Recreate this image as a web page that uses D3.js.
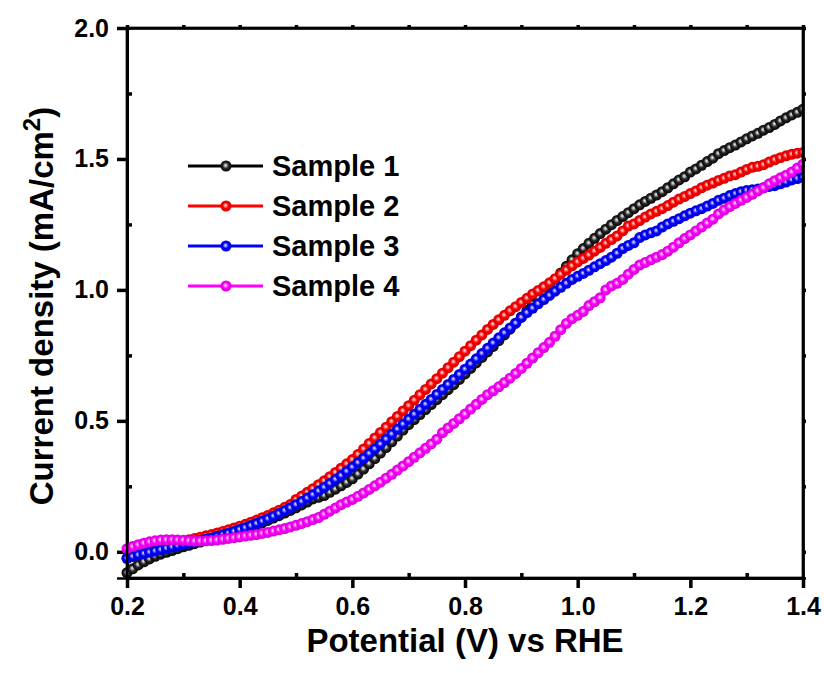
<!DOCTYPE html>
<html>
<head>
<meta charset="utf-8">
<script src="https://cdn.jsdelivr.net/npm/d3@7"></script>
<style>
  body { margin: 0; background: #fff; }
  svg { font-family: "Liberation Sans", Arial, sans-serif; font-weight: bold; }
</style>
</head>
<body>
<svg width="824" height="673"></svg>
<script>
var potential = [0.20,0.21,0.22,0.23,0.24,0.25,0.26,0.27,0.28,0.29,
  0.30,0.31,0.32,0.33,0.34,0.35,0.36,0.37,0.38,0.39,
  0.40,0.41,0.42,0.43,0.44,0.45,0.46,0.47,0.48,0.49,
  0.50,0.51,0.52,0.53,0.54,0.55,0.56,0.57,0.58,0.59,
  0.60,0.61,0.62,0.63,0.64,0.65,0.66,0.67,0.68,0.69,
  0.70,0.71,0.72,0.73,0.74,0.75,0.76,0.77,0.78,0.79,
  0.80,0.81,0.82,0.83,0.84,0.85,0.86,0.87,0.88,0.89,
  0.90,0.91,0.92,0.93,0.94,0.95,0.96,0.97,0.98,0.99,
  1.00,1.01,1.02,1.03,1.04,1.05,1.06,1.07,1.08,1.09,
  1.10,1.11,1.12,1.13,1.14,1.15,1.16,1.17,1.18,1.19,
  1.20,1.21,1.22,1.23,1.24,1.25,1.26,1.27,1.28,1.29,
  1.30,1.31,1.32,1.33,1.34,1.35,1.36,1.37,1.38,1.39,1.40];

var sample1 = [-0.080,-0.065,-0.050,-0.038,-0.027,-0.017,-0.009,-0.002,0.005,0.012,
  0.019,0.025,0.031,0.037,0.043,0.049,0.055,0.061,0.067,0.074,
  0.081,0.088,0.095,0.103,0.111,0.120,0.129,0.138,0.148,0.158,
  0.168,0.179,0.190,0.202,0.208,0.215,0.227,0.239,0.252,0.265,
  0.279,0.297,0.316,0.336,0.356,0.377,0.398,0.420,0.442,0.465,
  0.486,0.505,0.524,0.543,0.562,0.581,0.600,0.619,0.638,0.658,
  0.679,0.700,0.721,0.742,0.763,0.784,0.806,0.828,0.850,0.873,
  0.897,0.921,0.945,0.969,0.993,1.017,1.041,1.065,1.090,1.115,
  1.138,1.158,1.178,1.197,1.215,1.232,1.249,1.265,1.280,1.295,
  1.310,1.325,1.338,1.350,1.362,1.375,1.390,1.405,1.420,1.432,
  1.450,1.462,1.476,1.490,1.503,1.520,1.532,1.543,1.553,1.565,
  1.577,1.588,1.598,1.610,1.620,1.632,1.645,1.657,1.668,1.678,1.690];

var sample2 = [-0.025,-0.015,-0.006,0.002,0.009,0.015,0.021,0.026,0.031,0.036,
  0.041,0.046,0.051,0.056,0.061,0.066,0.072,0.078,0.084,0.091,
  0.098,0.105,0.113,0.121,0.130,0.139,0.149,0.159,0.170,0.181,
  0.200,0.213,0.227,0.241,0.256,0.271,0.287,0.303,0.319,0.336,
  0.352,0.372,0.393,0.414,0.435,0.456,0.476,0.497,0.517,0.538,
  0.558,0.579,0.600,0.620,0.641,0.661,0.682,0.703,0.724,0.745,
  0.766,0.787,0.808,0.828,0.849,0.868,0.886,0.903,0.920,0.936,
  0.952,0.968,0.984,0.998,1.012,1.027,1.043,1.060,1.076,1.092,
  1.107,1.120,1.133,1.148,1.162,1.178,1.192,1.206,1.225,1.244,
  1.252,1.265,1.278,1.290,1.300,1.310,1.322,1.335,1.347,1.357,
  1.368,1.378,1.390,1.400,1.408,1.418,1.426,1.435,1.440,1.450,
  1.460,1.468,1.472,1.478,1.488,1.497,1.505,1.512,1.518,1.522,1.525];

var sample3 = [-0.025,-0.018,-0.012,-0.007,-0.002,0.003,0.008,0.013,0.018,0.023,
  0.028,0.033,0.038,0.043,0.048,0.053,0.059,0.065,0.071,0.078,
  0.085,0.092,0.100,0.108,0.117,0.126,0.136,0.146,0.157,0.168,
  0.180,0.192,0.205,0.218,0.232,0.246,0.261,0.276,0.291,0.307,
  0.323,0.340,0.357,0.375,0.393,0.411,0.430,0.449,0.468,0.487,
  0.506,0.525,0.544,0.563,0.582,0.601,0.620,0.639,0.658,0.677,
  0.697,0.717,0.737,0.757,0.777,0.797,0.817,0.836,0.855,0.873,
  0.895,0.913,0.930,0.947,0.963,0.979,0.995,1.010,1.025,1.040,
  1.052,1.063,1.075,1.088,1.100,1.112,1.125,1.140,1.158,1.170,
  1.180,1.200,1.210,1.218,1.225,1.240,1.252,1.262,1.272,1.283,
  1.293,1.302,1.310,1.320,1.330,1.342,1.350,1.360,1.368,1.375,
  1.380,1.382,1.385,1.390,1.395,1.398,1.405,1.412,1.420,1.425,1.430];

var sample4 = [0.012,0.020,0.027,0.033,0.038,0.042,0.045,0.046,0.046,0.045,
  0.044,0.042,0.041,0.041,0.042,0.043,0.045,0.048,0.051,0.054,
  0.057,0.060,0.063,0.066,0.070,0.074,0.079,0.084,0.089,0.095,
  0.101,0.108,0.115,0.123,0.131,0.143,0.155,0.167,0.180,0.190,
  0.200,0.212,0.225,0.238,0.252,0.266,0.281,0.296,0.312,0.328,
  0.344,0.361,0.378,0.395,0.412,0.430,0.455,0.473,0.490,0.508,
  0.526,0.545,0.563,0.582,0.600,0.615,0.630,0.646,0.663,0.681,
  0.700,0.720,0.740,0.760,0.780,0.800,0.823,0.848,0.872,0.890,
  0.903,0.918,0.940,0.955,0.970,1.000,1.015,1.025,1.040,1.060,
  1.078,1.095,1.105,1.115,1.125,1.135,1.148,1.163,1.180,1.196,
  1.210,1.225,1.240,1.255,1.270,1.290,1.305,1.318,1.330,1.342,
  1.353,1.365,1.378,1.390,1.405,1.417,1.428,1.438,1.450,1.465,1.480];

var seriesNames = ["Sample 1", "Sample 2", "Sample 3", "Sample 4"];
var seriesColors = ["#000000", "#ff0000", "#0000ff", "#ff00ff"];
var xTicks = [0.2, 0.4, 0.6, 0.8, 1.0, 1.2, 1.4];
var yTicks = [0.0, 0.5, 1.0, 1.5, 2.0];
var xMinor = [0.3, 0.5, 0.7, 0.9, 1.1, 1.3];
var yMinor = [0.25, 0.75, 1.25, 1.75];

var allSeries = [sample1, sample2, sample3, sample4];

var svg = d3.select("svg"),
    margin = {top: 28, right: 21, bottom: 95, left: 127},
    w = +svg.attr("width") - margin.left - margin.right,
    h = +svg.attr("height") - margin.top - margin.bottom;

var xScale = d3.scaleLinear().domain([0.2, 1.4]).range([0, w]),
    yScale = d3.scaleLinear().domain([-0.1, 2.0]).range([h, 0]);

// sphere-like marker fills
var defs = svg.append("defs");
seriesColors.forEach(function(c, i) {
  var hi = i === 0 ? "#f4f4f4" : d3.interpolateRgb(c, "#fff")(0.92);
  var soft = i === 0 ? "#a0a0a0" : d3.interpolateRgb(c, "#fff")(0.5);
  var mid = i === 0 ? "#2a2a2a" : c;
  var edge = i === 0 ? "#000" : d3.color(c).darker(0.6).toString();
  var gr = defs.append("radialGradient")
      .attr("id", "ball" + i)
      .attr("cx", "50%").attr("cy", "50%").attr("r", "52%")
      .attr("fx", "45%").attr("fy", "42%");
  gr.append("stop").attr("offset", "0%").attr("stop-color", hi);
  gr.append("stop").attr("offset", "24%").attr("stop-color", soft);
  gr.append("stop").attr("offset", "50%").attr("stop-color", mid);
  gr.append("stop").attr("offset", "100%").attr("stop-color", edge);
});

defs.append("clipPath").attr("id", "plotclip")
  .append("rect").attr("x", -6).attr("y", 0).attr("width", w + 6).attr("height", h);

var g = svg.append("g")
    .attr("transform", "translate(" + margin.left + "," + margin.top + ")");

// axes first, same way as the plain test page that showed its ticks
g.append("g")
    .attr("class", "axis x-axis")
    .attr("transform", "translate(0," + h + ")")
    .call(d3.axisBottom(xScale).tickValues(xTicks).tickSize(10).tickPadding(9)
      .tickFormat(d3.format(".1f")));

g.append("g")
    .attr("class", "axis y-axis")
    .call(d3.axisLeft(yScale).tickValues(yTicks).tickSize(10).tickPadding(8)
      .tickFormat(d3.format(".1f")));

g.append("g")
    .attr("class", "axis")
    .attr("transform", "translate(0," + h + ")")
    .call(d3.axisBottom(xScale).tickValues(xMinor).tickSize(-5).tickFormat(""));

g.append("g")
    .attr("class", "axis")
    .call(d3.axisLeft(yScale).tickValues(yMinor).tickSize(-5).tickFormat(""));

g.append("g")
    .attr("class", "axis")
    .call(d3.axisTop(xScale).tickValues(xTicks.concat(xMinor)).tickSize(3).tickFormat(""));

g.append("g")
    .attr("class", "axis")
    .attr("transform", "translate(" + w + ",0)")
    .call(d3.axisRight(yScale).tickValues(yTicks.concat(yMinor)).tickSize(3).tickFormat(""));

g.selectAll(".axis .tick line").attr("stroke", "#000").attr("stroke-width", 3.5);
g.selectAll(".axis .domain").attr("stroke", "#000").attr("stroke-width", 2.7);
g.selectAll(".axis .tick text")
    .attr("fill", "#000")
    .attr("font-family", "Liberation Sans, Arial, sans-serif")
    .attr("font-weight", "bold")
    .style("font-size", "25px");

var plot = g.append("g").attr("clip-path", "url(#plotclip)");

var curve = d3.line()
    .x(function(d, i) { return xScale(potential[i]); })
    .y(function(d) { return yScale(d); });

allSeries.forEach(function(vals, i) {
  plot.append("path")
      .datum(vals)
      .attr("fill", "none")
      .attr("stroke", seriesColors[i])
      .attr("stroke-width", 3)
      .attr("d", curve);

  plot.selectAll(".dot" + i)
    .data(vals)
    .enter().append("circle")
      .attr("class", "dot" + i)
      .attr("cx", function(d, j) { return xScale(potential[j]); })
      .attr("cy", function(d) { return yScale(d); })
      .attr("r", 5.5)
      .attr("fill", "url(#ball" + i + ")");
});

g.append("rect")
    .attr("x", 0).attr("y", 0)
    .attr("width", w).attr("height", h)
    .attr("fill", "none")
    .attr("stroke", "#000")
    .attr("stroke-width", 2.7);

// axis titles
g.append("text")
    .attr("x", w / 2)
    .attr("y", h + 74)
    .attr("text-anchor", "middle")
    .style("font-size", "33px")
    .text("Potential (V) vs RHE");

var yt = g.append("text")
    .attr("transform", "translate(-74," + (h / 2 + 3) + ") rotate(-90)")
    .attr("text-anchor", "middle")
    .style("font-size", "33px");
yt.append("tspan").text("Current density (mA/cm");
yt.append("tspan").attr("dy", -13).style("font-size", "24px").text("2");
yt.append("tspan").attr("dy", 13).text(")");

// legend
var legend = g.append("g").attr("transform", "translate(61,138)");
seriesNames.forEach(function(name, i) {
  var row = legend.append("g").attr("transform", "translate(0," + (i * 40) + ")");
  row.append("line")
      .attr("x1", 0).attr("x2", 75)
      .attr("stroke", seriesColors[i])
      .attr("stroke-width", 3);
  row.append("circle")
      .attr("cx", 38).attr("cy", 0).attr("r", 5.5)
      .attr("fill", "url(#ball" + i + ")");
  row.append("text")
      .attr("x", 84)
      .attr("y", 10)
      .style("font-size", "29px")
      .text(name);
});
</script>
</body>
</html>
